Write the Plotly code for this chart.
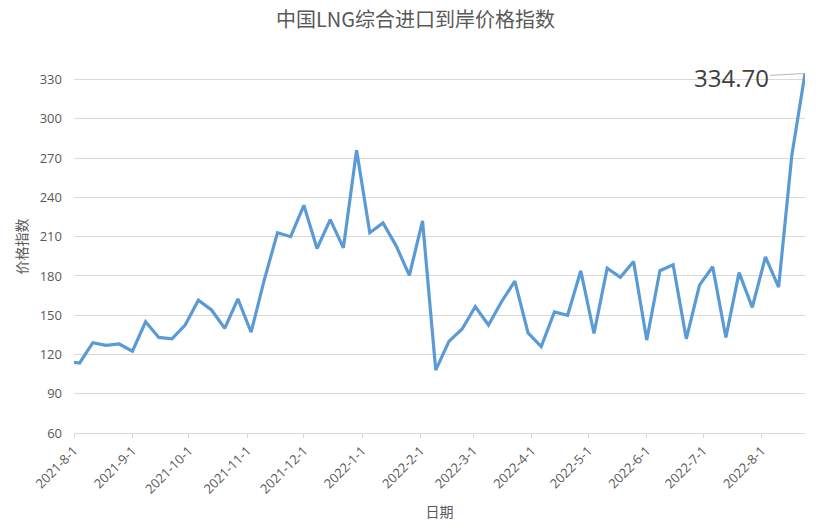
import plotly.graph_objects as go

dates = [
    "2021-08-01", "2021-08-04", "2021-08-11", "2021-08-18", "2021-08-25",
    "2021-09-01", "2021-09-08", "2021-09-15", "2021-09-22", "2021-09-29",
    "2021-10-06", "2021-10-13", "2021-10-20", "2021-10-27",
    "2021-11-03", "2021-11-10", "2021-11-17", "2021-11-24",
    "2021-12-01", "2021-12-08", "2021-12-15", "2021-12-22", "2021-12-29",
    "2022-01-05", "2022-01-12", "2022-01-19", "2022-01-26",
    "2022-02-02", "2022-02-09", "2022-02-16", "2022-02-23",
    "2022-03-02", "2022-03-09", "2022-03-16", "2022-03-23", "2022-03-30",
    "2022-04-06", "2022-04-13", "2022-04-20", "2022-04-27",
    "2022-05-04", "2022-05-11", "2022-05-18", "2022-05-25",
    "2022-06-01", "2022-06-08", "2022-06-15", "2022-06-22", "2022-06-29",
    "2022-07-06", "2022-07-13", "2022-07-20", "2022-07-27",
    "2022-08-03", "2022-08-10", "2022-08-17", "2022-08-24",
]
values = [
    114, 113.5, 129, 127, 128,
    122.5, 145, 133, 132, 142.5,
    161.5, 154, 140, 162.5,
    137, 177, 213, 210,
    234, 201, 223, 201.5, 276,
    213, 220.5, 203, 180.5,
    222, 108, 130, 139.5,
    156.5, 142.5, 160.5, 176, 136.5,
    126, 152.5, 150, 184,
    136, 186, 179, 191,
    131, 184, 188.5, 132, 173,
    187, 133, 182.5, 156,
    194.5, 171.5, 272, 334.7,
]
y_ticks = [60, 90, 120, 150, 180, 210, 240, 270, 300, 330]
title_text = "中国LNG综合进口到岸价格指数"
y_title = "价格指数"
x_title = "日期"
last_label = "334.70"

font_family = "Open Sans, Noto Sans CJK SC, sans-serif"
cjk_font = "Noto Sans CJK SC, sans-serif"
grey = "#595959"

fig = go.Figure()
fig.add_trace(go.Scatter(
    x=dates, y=values, mode="lines",
    line=dict(color="#5b9bd5", width=3.2),
    hoverinfo="x+y",
))

fig.add_annotation(
    x=dates[-1], y=values[-1], text=last_label,
    showarrow=True, arrowhead=0, arrowwidth=0.8, arrowcolor="#a6a6a6",
    ax=-74, ay=4, font=dict(size=24, color="#404040", family=font_family),
)

fig.update_layout(
    width=831, height=531,
    margin=dict(l=74, r=26, t=60, b=98),
    paper_bgcolor="white", plot_bgcolor="white",
    showlegend=False,
    font=dict(family=font_family, color=grey, size=12),
    title=dict(text=title_text, x=0.5, xanchor="center", y=0.962, yanchor="middle",
               font=dict(size=20, color=grey, family=cjk_font)),
    xaxis=dict(
        type="date",
        range=["2021-08-01", "2022-08-24"],
        dtick="M1", tick0="2021-08-01",
        tickformat="%Y-%-m-%-d", tickangle=-45,
        ticks="outside", ticklen=4, tickcolor="#d9d9d9",
        showline=True, linecolor="#d9d9d9", linewidth=1,
        showgrid=False, zeroline=False,
        tickfont=dict(size=13, color=grey),
        title=dict(text=x_title, font=dict(size=14, color=grey, family=cjk_font), standoff=10),
    ),
    yaxis=dict(
        range=[60, 345],
        tickvals=y_ticks,
        showgrid=True, gridcolor="#d9d9d9", gridwidth=1,
        zeroline=False, showline=False,
        tickfont=dict(size=13, color=grey),
        ticks="", ticklabelstandoff=11,
        title=dict(text=y_title, font=dict(size=14, color=grey, family=cjk_font), standoff=8),
    ),
)

fig.write_html("out.html", config={"displayModeBar": False},
               post_script="document.body.style.margin='0';")
